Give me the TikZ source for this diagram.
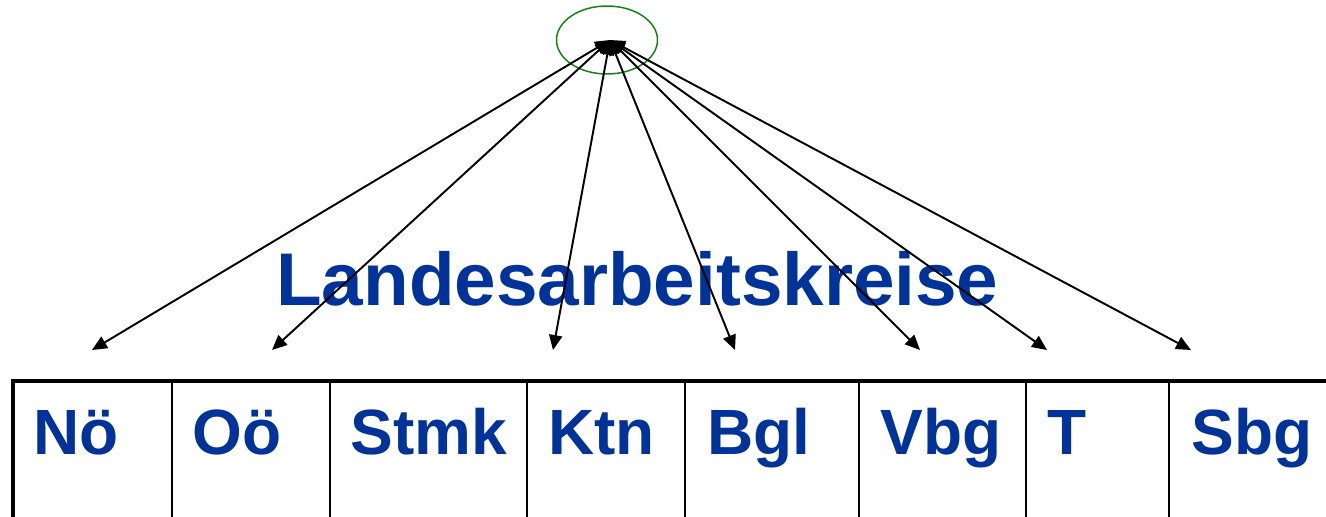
\documentclass[tikz,border=0pt]{standalone}
\usepackage{fontspec}
\setmainfont{Liberation Sans}
\usetikzlibrary{arrows.meta,shapes.geometric}
\definecolor{landblue}{RGB}{0,51,153}
\definecolor{hubgreen}{RGB}{20,130,20}

\begin{document}
\begin{tikzpicture}[x=0.02cm,y=-0.02cm,
    land/.style={font=\fontsize{36.4}{40}\selectfont\bfseries,text=landblue,inner sep=0pt,anchor=base west},
    arr/.style={{Triangle[length=8.5pt,width=7.5pt]}-{Triangle[length=8.5pt,width=7.5pt]},line width=1.1pt}]
        \useasboundingbox (0,0) rectangle (1326,517);

        \node (hub) [ellipse,draw=hubgreen,line width=0.85pt,minimum width=2.02cm,minimum height=1.36cm,inner sep=0pt] at (607,40) {};
        \coordinate (apex) at (610,40);

        \node (title) [land,font=\fontsize{42.5}{46}\selectfont\bfseries] at (276,305) {Landesarbeitskreise};

        % table
        \draw[line width=2.8pt] (11,381) -- (1326,381);
        \draw[line width=2.8pt] (13,381) -- (13,517);
        \foreach \x in {172,330,527,685,859,1026,1169} {
          \draw[line width=1.1pt] (\x,381) -- (\x,517);
        }

        \foreach \x/\t/\n in {33/Nö/noe,192/Oö/ooe,350/Stmk/stmk,548/Ktn/ktn,707/Bgl/bgl,880/Vbg/vbg,1047/T/tir,1191/Sbg/sbg} {
          \node (\n) [land] at (\x,454) {\t};
        }

        \foreach \x [count=\i] in {92,272,553,735,920,1047,1191} {
          \coordinate (t\i) at (\x,350);
          \draw[arr] (apex) -- (t\i);
        }
      \end{tikzpicture}
\end{document}
